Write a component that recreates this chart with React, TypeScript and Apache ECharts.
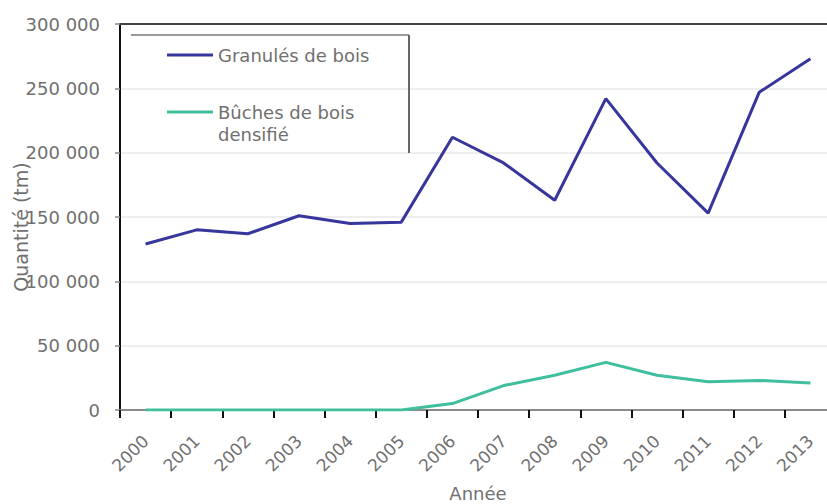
import React, { useEffect, useRef } from "react";
import * as echarts from "echarts";

const years = ["2000","2001","2002","2003","2004","2005","2006","2007","2008","2009","2010","2011","2012","2013"];
const granules = [129000,140000,137000,151000,145000,146000,212000,192000,163000,242000,192000,153000,247000,273000];
const buches = [0,0,0,0,0,0,5000,19000,27000,37000,27000,22000,23000,21000];
const seriesNames = ["Granulés de bois", "Bûches de bois\ndensifié"];
const yTicks = { min: 0, max: 300000, interval: 50000 };

const FONT = "DejaVu Sans";
const GREY = "#707070";

function fmt(v: number) {
  return String(v).replace(/\B(?=(\d{3})+(?!\d))/g, " ");
}

export default function App() {
  const ref = useRef<HTMLDivElement>(null);
  useEffect(() => {
    if (!ref.current) return;
    const chart = echarts.init(ref.current, null, { renderer: "svg" });
    const legendCommon = {
      orient: "vertical",
      left: 167,
      padding: 0,
      icon: "rect",
      itemWidth: 46,
      itemHeight: 3,
      textStyle: { fontFamily: FONT, fontSize: 18, color: GREY, lineHeight: 22 },
    };
    chart.setOption({
      animation: false,
      backgroundColor: "#ffffff",
      textStyle: { fontFamily: FONT },
      grid: { left: 120, top: 24, bottom: 94, right: -9, containLabel: false, outerBoundsMode: "none" },
      legend: [
        { ...legendCommon, data: [seriesNames[0]], top: 44 },
        { ...legendCommon, data: [seriesNames[1]], top: 79, formatter: (n: string) => "\n" + n },
      ],
      xAxis: [
        {
          type: "category",
          data: years,
          position: "bottom",
          boundaryGap: true,
          name: "Année",
          nameLocation: "middle",
          nameGap: 74,
          nameMoveOverlap: false,
          nameTextStyle: { fontFamily: FONT, fontSize: 18, color: GREY },
          axisLine: { show: true, lineStyle: { color: "#8a8a8a", width: 2 } },
          axisTick: { show: true, alignWithLabel: false, length: 8, inside: false, lineStyle: { color: "#111", width: 2 } },
          axisLabel: { rotate: 45, margin: 28, fontFamily: FONT, fontSize: 17, color: GREY, interval: 0 },
          splitLine: { show: false },
        },
        {
          type: "category",
          data: years,
          position: "top",
          boundaryGap: true,
          axisLine: { show: true, lineStyle: { color: "#444", width: 2 } },
          axisTick: { show: false },
          axisLabel: { show: false },
          splitLine: { show: false },
        },
      ],
      yAxis: {
        type: "value",
        min: yTicks.min,
        max: yTicks.max,
        interval: yTicks.interval,
        name: "Quantité (tm)",
        nameLocation: "middle",
        nameGap: 90,
        nameMoveOverlap: false,
        nameTextStyle: { fontFamily: FONT, fontSize: 19, color: GREY, padding: [0, 20, 0, 0] },
        axisLine: { show: true, lineStyle: { color: "#111", width: 2 } },
        axisTick: { show: true, length: 5, lineStyle: { color: "#888", width: 1.5 } },
        axisLabel: { margin: 20, fontFamily: FONT, fontSize: 18, color: GREY, formatter: (v: number) => fmt(v) },
        splitLine: { show: true, lineStyle: { color: "#e8e8e8", width: 1.5 } },
      },
      series: [
        {
          name: seriesNames[0],
          type: "line",
          data: granules,
          symbol: "none",
          lineStyle: { color: "#36369c", width: 3 },
          itemStyle: { color: "#36369c" },
          z: 3,
        },
        {
          name: seriesNames[1],
          type: "line",
          data: buches,
          symbol: "none",
          lineStyle: { color: "#3fbf9e", width: 3 },
          itemStyle: { color: "#3fbf9e" },
          z: 4,
        },
      ],
      graphic: [
        { type: "line", shape: { x1: 131, y1: 35, x2: 409, y2: 35 }, style: { stroke: "#9a9a9a", lineWidth: 2 }, z: 10 },
        { type: "line", shape: { x1: 409, y1: 35, x2: 409, y2: 153 }, style: { stroke: "#666", lineWidth: 2 }, z: 10 },
      ],
    });
    return () => chart.dispose();
  }, []);
  return (
    <div
      ref={ref}
      style={{ position: "fixed", left: 0, top: 0, width: 827, height: 504, background: "#fff" }}
    />
  );
}
